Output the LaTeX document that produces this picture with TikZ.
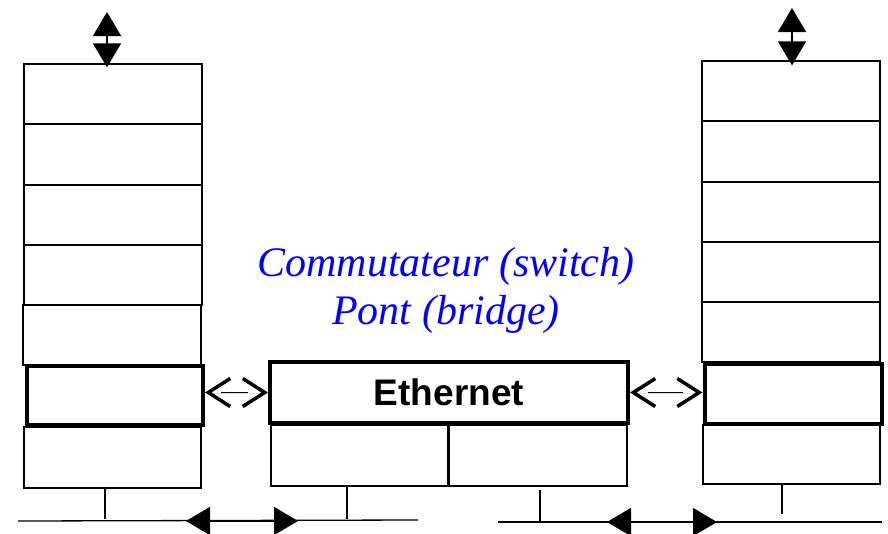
\documentclass[tikz,border=0pt]{standalone}
\usepackage{fontspec}
\setmainfont{Liberation Serif}
\newfontfamily\arialfam{Liberation Sans}
\usetikzlibrary{arrows.meta}
\begin{document}
\begin{tikzpicture}[x=1pt,y=-1pt,
  cell/.style={draw, line width=1.3pt, inner sep=0pt, minimum width=178pt, minimum height=60pt},
  boldcell/.style={draw, line width=4pt, inner sep=0pt, minimum width=177pt, minimum height=60pt},
  bigboth/.style={line width=1.5pt, {Triangle[length=24pt,width=28pt]}-{Triangle[length=24pt,width=28pt]}},
  chevtips/.style={line width=0.01pt, {Straight Barb[length=22pt,width=28pt,line width=3.5pt]}-{Straight Barb[length=22pt,width=28pt,line width=3.5pt]}},
  shaft/.style={line width=1.3pt},
  ground/.style={line width=1.3pt},
  titletext/.style={text=blue, font=\itshape\fontsize{42}{48}\selectfont, align=center},
  ethtext/.style={font=\arialfam\bfseries\fontsize{37}{40}\selectfont}
]
\useasboundingbox (0,0) rectangle (888,533);

% left stack
\node[cell] (l1) at (113,94) {};
\node[cell, minimum height=61pt] (l2) at (113,154.5) {};
\node[cell] (l3) at (113,215) {};
\node[cell] (l4) at (113,275) {};
\node[cell] (l5) at (112,335) {};
\node[cell, minimum width=177pt, minimum height=61pt] (l7) at (112.5,457.5) {};
\node[boldcell, minimum width=176pt, minimum height=59pt] (lb) at (115,395.5) {};

% middle
\node[cell, minimum width=177pt, minimum height=61pt] (m1) at (359.5,455.5) {};
\node[cell, minimum height=61pt] (m2) at (538,455.5) {};
\node[boldcell, minimum width=358pt, minimum height=61pt, ethtext] (eth) at (449,392.5) {Ethernet};

% right stack
\node[cell] (r1) at (791,91) {};
\node[cell, minimum height=61pt] (r2) at (791,151.5) {};
\node[cell] (r3) at (791,212) {};
\node[cell] (r4) at (791,272) {};
\node[cell] (r5) at (791,332) {};
\node[cell, minimum width=177pt, minimum height=59pt] (r7) at (791.5,454.5) {};
\node[boldcell] (rb) at (793,394) {};

% title
\node[titletext] (title) at (446,290) {Commutateur (switch)\\Pont (bridge)};

% top arrows
\coordinate (tl) at (107,12);
\draw[bigboth, shorten >=-4pt] (tl) -- (tl |- l1.north);
\coordinate (tr) at (792,8);
\draw[bigboth, shorten >=-5pt] (tr) -- (tr |- r1.north);

% chevron arrows
\draw[chevtips] (eth.west -| lb.east) -- (eth.west);
\draw[shaft, shorten <=16pt, shorten >=20pt] (eth.west -| lb.east) -- (eth.west);
\draw[chevtips] (eth.east) -- (eth.east -| rb.west);
\draw[shaft, shorten <=18pt, shorten >=20pt] (eth.east) -- (eth.east -| rb.west);

% bottom networks
\coordinate (g1a) at (18,521);
\coordinate (g1b) at (418,520);
\draw[ground] (g1a) -- (g1b);
\coordinate (v1) at (105,519);
\draw[ground] (l7.south -| v1) -- (v1);
\coordinate (v2) at (347,519);
\draw[ground] (m1.south -| v2) -- (v2);
\coordinate (a1) at (186,521);
\coordinate (a2) at (298,521);
\draw[bigboth] (a1) -- (a2);

\coordinate (g2a) at (498,522);
\coordinate (g2b) at (882,522);
\draw[ground] (g2a) -- (g2b);
\coordinate (v3t) at (540,490);
\coordinate (v3) at (540,521);
\draw[ground] (v3t) -- (v3);
\coordinate (v4) at (782,514);
\draw[ground] (r7.south -| v4) -- (v4);
\coordinate (a3) at (607,522);
\coordinate (a4) at (717,522);
\draw[bigboth] (a3) -- (a4);
\end{tikzpicture}
\end{document}
